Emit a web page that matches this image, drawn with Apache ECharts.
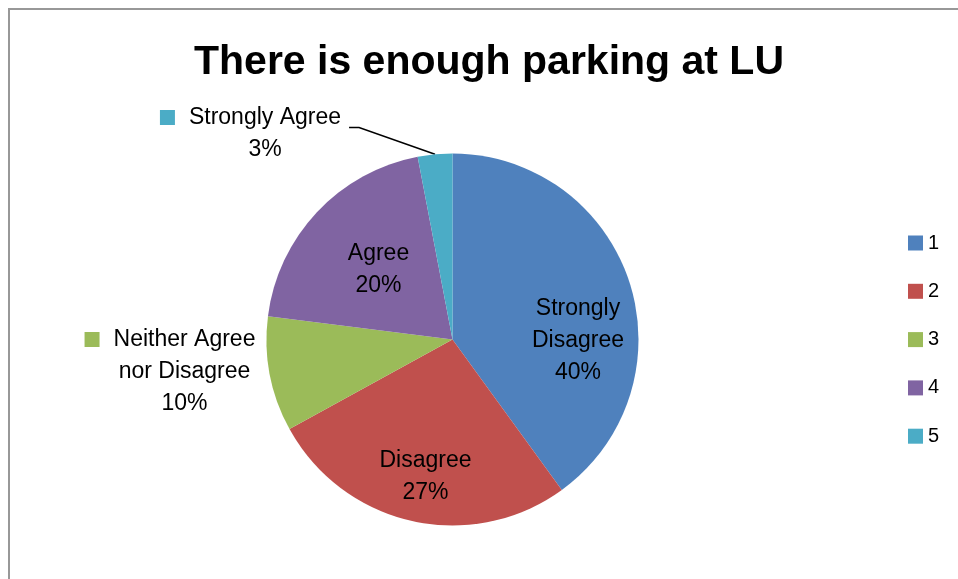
<!DOCTYPE html>
<html>
<head>
<meta charset="utf-8">
<script src="https://cdn.jsdelivr.net/npm/echarts@6/dist/echarts.min.js"></script>
<style>
  html, body { margin: 0; padding: 0; background: #fff; }
  #chart { width: 958px; height: 579px; }
</style>
</head>
<body>
<div id="chart"></div>
<script>
// legend keys and the answer texts shown on the slices
const categories = ['1', '2', '3', '4', '5'];
const answers = ['Strongly\nDisagree', 'Disagree', 'Neither Agree\nnor Disagree', 'Agree', 'Strongly Agree'];
const values = [40, 27, 10, 20, 3];
const colors = ['#4F81BD', '#C0504D', '#9BBB59', '#8064A2', '#4BACC6'];

const CX = 452.5, CY = 339.5, R = 186;
const FONT = 'Liberation Sans';
// label block centres, relative to the pie centre
const labelPos = [[125.5, 1], [-27, 137], [-282.5, 32], [-74, -70], [-202, -206]];
const keyed = [false, false, true, false, true]; // outside labels carry a colour key

const chart = echarts.init(document.getElementById('chart'), null, { renderer: 'canvas' });

function labelText(p) {
  const lines = answers[p.dataIndex].split('\n').concat(Math.round(p.percent) + '%');
  if (!keyed[p.dataIndex]) return lines.join('\n');
  return lines.map((s, i) => (i === 0 ? '{sq|}{gap|}' : '{sp|}') + s).join('\n');
}

const data = values.map((v, i) => ({
  name: categories[i],
  value: v,
  itemStyle: { color: colors[i] },
  label: {
    position: i === 4 ? 'outside' : 'inside',
    rich: {
      sq: { width: 15, height: 15, backgroundColor: colors[i] },
      gap: { width: 14 },
      sp: { width: 29 }
    }
  },
  labelLine: { show: i === 4 }
}));

chart.setOption({
  animation: false,
  backgroundColor: '#fff',
  title: {
    text: 'There is enough parking at LU',
    left: 489,
    top: 42,
    padding: 0,
    textAlign: 'center',
    textStyle: { fontFamily: FONT, fontWeight: 'bold', fontSize: 41, color: '#000' }
  },
  legend: {
    orient: 'vertical',
    left: 908,
    top: 233,
    padding: 0,
    icon: 'rect',
    itemWidth: 15,
    itemHeight: 15,
    itemGap: 28.3,
    data: categories,
    textStyle: { fontFamily: FONT, fontSize: 20, color: '#000' }
  },
  graphic: [{
    type: 'rect',
    shape: { x: 9, y: 9, width: 1000, height: 1000 },
    style: { fill: 'none', stroke: '#989898', lineWidth: 2 },
    silent: true
  }],
  series: [{
    type: 'pie',
    center: [CX, CY],
    radius: R,
    startAngle: 90,
    clockwise: true,
    avoidLabelOverlap: false,
    itemStyle: { borderWidth: 0 },
    label: {
      formatter: labelText,
      fontFamily: FONT,
      fontSize: 23,
      lineHeight: 32,
      color: '#000'
    },
    labelLine: { lineStyle: { color: '#000', width: 1.5 }, length: 15, length2: 10 },
    labelLayout(p) {
      const [dx, dy] = labelPos[p.dataIndex];
      const x = CX + dx, y = CY + dy;
      const out = { x, y, align: 'center', verticalAlign: 'middle' };
      if (p.dataIndex === 4 && p.labelLinePoints) {
        const right = x + p.labelRect.width / 2;
        out.labelLinePoints = [p.labelLinePoints[0], [right + 18, y - 6], [right + 8, y - 6]];
      }
      return out;
    },
    data
  }]
});
</script>
</body>
</html>
